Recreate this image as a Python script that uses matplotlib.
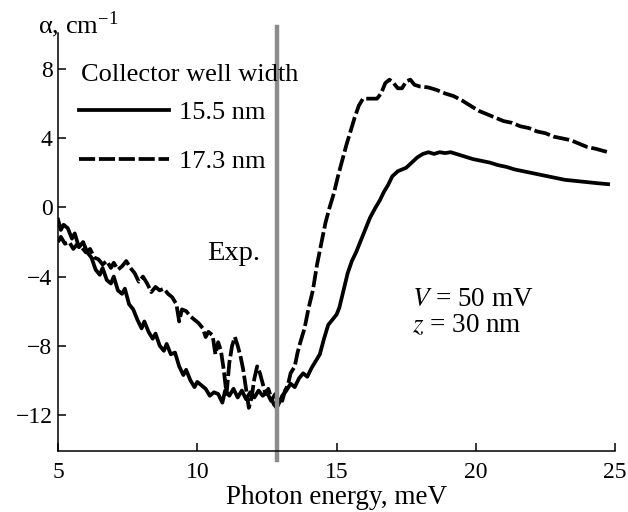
#%%imports
import matplotlib
matplotlib.use("Agg")
import matplotlib.pyplot as plt
import numpy as np

plt.rcParams["font.family"] = ["Liberation Serif", "DejaVu Serif"]
plt.rcParams["mathtext.fontset"] = "stix"
plt.rcParams["font.size"] = 19


#%%data
#15.5 nm collector well (solid)
e_155 = [5.0, 5.1, 5.2, 5.35, 5.5, 5.6, 5.75, 5.9, 6.05, 6.2, 6.35, 6.5, 6.6, 6.75, 6.9, 7.0,
         7.15, 7.3, 7.4, 7.55, 7.7, 7.85, 8.0, 8.1, 8.25, 8.4, 8.5, 8.65, 8.8, 8.9, 9.05, 9.2,
         9.35, 9.5, 9.6, 9.75, 9.9, 10.0, 10.15, 10.3, 10.45, 10.6, 10.75, 10.9, 11.0, 11.15,
         11.3, 11.45, 11.6, 11.75, 11.9, 12.05, 12.2, 12.35, 12.5, 12.65, 12.8, 12.95, 13.05,
         13.2, 13.35, 13.5, 13.65, 13.8, 13.95, 14.1, 14.25, 14.4, 14.55, 14.7, 14.85, 15.0,
         15.1, 15.25, 15.4, 15.55, 15.7, 15.85, 16.0, 16.2, 16.4, 16.55, 16.7, 16.85, 17.0,
         17.2, 17.35, 17.5, 17.7, 17.9, 18.1, 18.3, 18.5, 18.7, 18.9, 19.1, 19.3, 19.6, 19.9,
         20.2, 20.5, 20.8, 21.1, 21.4, 21.7, 22.0, 22.3, 22.6, 22.9, 23.2, 23.5, 23.8, 24.1,
         24.4, 24.75]
a_155 = [-0.7, -1.3, -1.0, -1.2, -1.8, -1.5, -2.3, -2.0, -2.6, -2.9, -3.6, -3.9, -3.5, -4.2,
         -4.4, -4.0, -4.8, -5.0, -4.7, -5.6, -5.9, -6.5, -7.0, -6.6, -7.2, -7.6, -7.3, -8.0,
         -8.3, -7.9, -8.5, -8.4, -9.2, -9.7, -9.4, -10.0, -10.4, -10.1, -10.3, -10.5, -10.9,
         -10.7, -10.8, -11.3, -10.6, -10.9, -10.5, -11.0, -10.6, -11.1, -10.7, -11.0, -10.6,
         -10.9, -10.7, -11.2, -10.8, -11.3, -10.9, -10.6, -10.2, -10.4, -9.9, -9.6, -9.8, -9.3,
         -8.9, -8.5, -7.6, -6.8, -6.5, -6.2, -5.8, -4.8, -3.8, -3.1, -2.6, -2.0, -1.4, -0.6,
         0.0, 0.4, 0.9, 1.3, 1.8, 2.1, 2.2, 2.3, 2.6, 2.9, 3.1, 3.2, 3.1, 3.2, 3.15, 3.2, 3.1,
         2.95, 2.8, 2.7, 2.6, 2.45, 2.35, 2.2, 2.1, 2.0, 1.9, 1.8, 1.7, 1.6, 1.55, 1.5, 1.45,
         1.4, 1.35]

#17.3 nm collector well (dashed)
e_173 = [5.0, 5.1, 5.25, 5.4, 5.55, 5.7, 5.85, 6.0, 6.15, 6.3, 6.45, 6.6, 6.75, 6.9, 7.0, 7.15,
         7.3, 7.45, 7.6, 7.75, 7.9, 8.05, 8.2, 8.35, 8.5, 8.65, 8.8, 8.95, 9.1, 9.25, 9.35,
         9.45, 9.6, 9.75, 9.9, 10.05, 10.2, 10.3, 10.4, 10.55, 10.65, 10.75, 10.85, 10.95,
         11.05, 11.15, 11.25, 11.35, 11.45, 11.55, 11.65, 11.75, 11.85, 11.95, 12.05, 12.15,
         12.25, 12.35, 12.45, 12.55, 12.65, 12.75, 12.85, 12.95, 13.05, 13.15, 13.25, 13.35,
         13.5, 13.6, 13.7, 13.85, 14.0, 14.15, 14.3, 14.45, 14.6, 14.75, 14.9, 15.05, 15.2,
         15.35, 15.5, 15.65, 15.8, 15.95, 16.2, 16.45, 16.6, 16.75, 16.9, 17.05, 17.2, 17.35,
         17.5, 17.65, 17.8, 18.0, 18.3, 18.6, 18.9, 19.2, 19.5, 19.8, 20.1, 20.4, 20.7, 21.0,
         21.3, 21.6, 21.9, 22.2, 22.5, 22.8, 23.1, 23.4, 23.7, 24.0, 24.3, 24.75]
a_173 = [-2.0, -1.7, -2.1, -2.0, -2.4, -2.1, -2.3, -2.6, -2.4, -2.9, -3.0, -3.3, -3.1, -3.5,
         -3.2, -3.6, -3.4, -3.1, -3.5, -3.8, -4.3, -4.0, -4.4, -4.9, -4.6, -4.8, -4.7, -5.0,
         -5.2, -5.6, -6.6, -5.9, -6.0, -6.3, -6.5, -6.7, -7.0, -7.5, -7.2, -7.4, -8.5, -7.8,
         -8.3, -9.4, -10.8, -9.0, -8.0, -7.5, -8.0, -8.6, -9.4, -10.5, -11.6, -11.0, -9.9,
         -9.2, -9.6, -10.2, -10.8, -10.5, -11.0, -11.4, -11.6, -11.3, -11.2, -10.6, -10.3,
         -9.6, -9.2, -8.4, -7.8, -7.0, -5.8, -4.8, -3.3, -2.1, -0.9, 0.0, 0.8, 1.8, 2.7, 3.6,
         4.4, 5.2, 5.9, 6.3, 6.3, 6.3, 6.6, 7.2, 7.4, 7.2, 6.9, 6.9, 7.3, 7.4, 7.1, 7.0, 6.95,
         6.8, 6.6, 6.45, 6.2, 5.9, 5.6, 5.4, 5.2, 5.0, 4.9, 4.7, 4.6, 4.4, 4.3, 4.1, 4.0, 3.9,
         3.7, 3.5, 3.4, 3.2]

exp_energy = 12.85   #position of experimental line, meV


#%%plot
def main():
    fig = plt.figure(figsize=(6.28, 5.12), dpi=100)
    ax = fig.add_axes([0.0924, 0.1191, 0.8870, 0.8164])

    ax.plot(e_155, a_155, color="black", lw=2.7, solid_joinstyle="round", label="15.5 nm")
    ax.plot(e_173, a_173, color="black", lw=2.7, dashes=(4.3, 1.0), label="17.3 nm")
    ax.axvline(exp_energy, ymin=-0.022, ymax=1.014, color="#8c8c8c", lw=3.2, clip_on=False)

    ax.set_xlim(5, 25)
    ax.set_ylim(-14.1, 10.1)
    ax.set_xticks([5, 10, 15, 20, 25])
    ax.set_yticks([-12, -8, -4, 0, 4, 8])
    ax.tick_params(direction="in", length=6, width=1.1, labelsize=17)
    ax.tick_params(axis="x", pad=8)
    ax.tick_params(axis="y", pad=4)
    for s in ["top", "right"]:
        ax.spines[s].set_visible(False)
    for s in ["left", "bottom"]:
        ax.spines[s].set_linewidth(1.1)

    ax.set_xlabel("Photon energy, meV", fontsize=19.5, labelpad=1)
    fig.text(0.0605, 0.9355, r"α, cm$^{\mathregular{-1}}$", fontsize=19, va="baseline")

    ax.text(10.34, -3.03, "Exp.", fontsize=20.5, va="baseline")
    ax.text(17.70, -5.69, "$V$ = 50 mV", fontsize=19.5, va="baseline")
    ax.text(17.70, -7.25, "$z$ = 30 nm", fontsize=19.5, va="baseline")

    #legend title as plain text, entries below it
    ax.text(5.83, 7.34, "Collector well width", fontsize=19, va="baseline")
    ax.legend(loc="upper left", bbox_to_anchor=(0.028, 0.851),
              frameon=False, fontsize=19,
              handlelength=3.4, handletextpad=0.38, labelspacing=0.96, borderaxespad=0,
              borderpad=0.2)

    fig.savefig("out.png", dpi=100)


if __name__ == "__main__":
    main()
